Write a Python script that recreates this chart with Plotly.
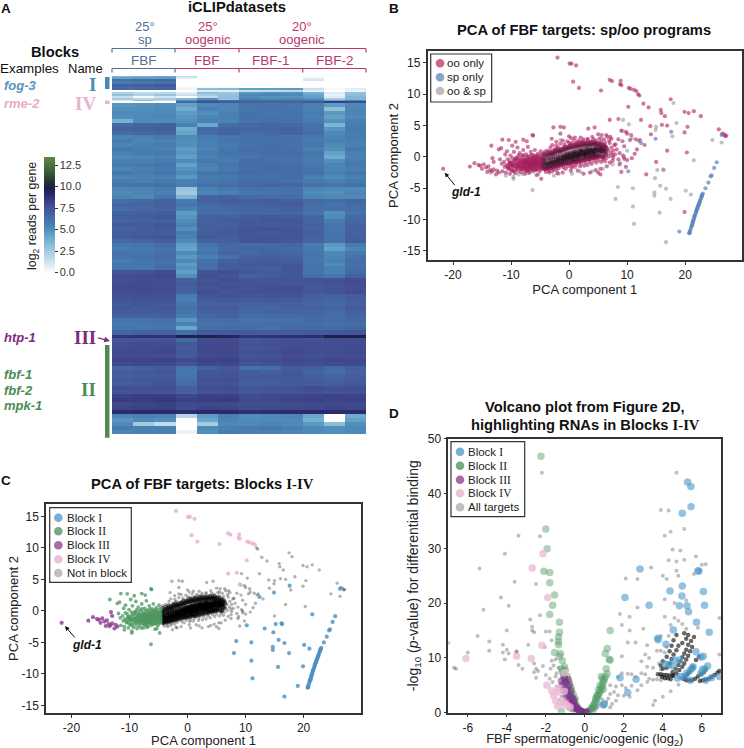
import numpy as np
import plotly.graph_objects as go

W, H = 744, 748
FONT = "Liberation Sans"
SERIF = "Liberation Serif"

# ---------- Panel A data ----------
col_labels = ["sp1", "sp2", "sp3", "oo1", "oo2", "oo3", "F1a", "F1b", "F1c", "F2a", "F2b", "F2c"]
colorbar_ticks = [0, 2.5, 5, 7.5, 10, 12.5]
colorbar_labels = ["0.0", "2.5", "5.0", "7.5", "10.0", "12.5"]
top_row_genes = [1, 2, 2, 3, 3, 1, 2, 2, 2, 2, 2, 2, 1, 2]
heat_top = [
    [3.5,3.8,4.2,1.8,0,0,0,0,0,0,0,0],
    [4.3,4.5,4.6,1.0,0,0,0,0,0,0.5,0,0],
    [6.3,6.4,6.6,0,0,0,0,0,0,1.2,0,0],
    [5.8,6.0,6.2,0,0,0,0,0,0,0,0,0],
    [7.0,7.0,7.3,0,0,0,0,0,0,0,0,0],
    [6.3,6.4,6.7,0.2,0.3,0.3,0,0,0,0.2,0,0],
    [6.6,6.7,6.9,0.5,3.2,3.4,4.4,4.5,4.6,1.5,0.3,0.8],
    [0,0,0,0,1.0,0.8,1.4,1.6,1.8,0.8,0,0.5],
    [2.2,1.8,2.0,0.8,3.2,2.8,4.8,5.0,5.0,3.8,1.0,3.0],
    [3.0,2.2,2.8,1.5,2.5,3.0,5.3,5.5,5.2,4.3,0.6,3.2],
    [1.5,0.2,1.2,0,1.8,3.2,5.0,4.9,4.8,4.5,0.8,3.5],
    [2.5,2.0,2.6,3.6,5.0,3.0,5.6,5.3,5.4,5.0,2.5,3.5],
    [0.8,3.0,1.5,5.0,6.8,6.2,6.6,6.5,6.4,6.3,4.5,5.6],
    [0,0,0,6.6,7.6,7.3,6.8,6.8,6.8,7.3,8.4,8.0],
]
heat_body = [
    [4.8,4.9,5.0,4.4,5.3,5.5,6.1,6.1,6.0,5.7,4.6,5.3],
    [5.0,5.1,5.2,4.0,5.6,5.4,6.0,6.2,6.1,5.6,3.2,5.4],
    [5.3,5.2,5.3,4.6,5.0,5.6,6.2,6.1,6.2,5.8,4.7,5.5],
    [5.0,5.3,5.4,4.8,5.4,5.7,6.3,6.2,6.1,5.7,4.4,5.3],
    [3.8,5.2,5.2,5.0,5.6,5.5,6.1,6.3,6.2,5.8,4.9,5.6],
    [6.6,6.7,6.9,5.6,4.2,6.4,6.6,6.7,6.6,6.2,3.6,5.8],
    [6.9,6.9,7.1,4.0,6.6,6.8,6.7,6.8,6.9,6.3,4.8,5.9],
    [6.5,6.7,6.8,4.3,6.4,6.9,6.5,6.6,6.8,6.4,5.3,5.8],
    [5.5,5.6,5.9,5.2,5.8,6.0,6.2,6.3,6.2,5.9,5.4,5.8],
    [5.8,5.5,5.6,5.1,5.6,6.1,6.3,6.2,6.3,5.8,5.6,5.7],
    [5.4,5.6,5.8,5.0,5.7,5.8,6.2,6.4,6.2,6.0,5.2,5.6],
    [5.9,5.7,5.7,4.6,5.5,6.0,6.4,6.3,6.3,5.7,5.1,5.9],
    [5.6,5.8,5.9,4.8,5.8,6.2,6.3,6.4,6.4,6.1,4.4,5.7],
    [5.3,5.4,5.6,4.5,5.6,5.9,6.1,6.2,6.3,5.9,4.1,5.6],
    [5.7,5.6,5.8,5.2,5.9,5.8,6.4,6.3,6.2,5.8,5.0,5.8],
    [5.8,5.9,6.0,4.4,5.7,6.1,6.5,6.4,6.3,6.0,5.4,5.9],
    [5.4,5.7,5.8,4.9,5.5,5.9,6.3,6.5,6.4,6.1,5.5,5.7],
    [5.9,5.8,6.1,5.3,6.0,6.2,6.5,6.4,6.5,6.2,5.6,6.0],
    [5.5,5.6,5.7,4.7,5.8,5.9,6.2,6.3,6.4,5.7,5.2,5.7],
    [5.8,5.7,5.9,5.6,5.9,6.1,6.4,6.5,6.3,5.9,5.7,5.9],
    [6.1,6.2,6.3,5.7,6.3,6.4,6.6,6.8,6.7,6.2,6.0,6.2],
    [5.4,5.5,5.8,2.9,5.6,5.9,6.2,6.2,6.3,5.4,5.2,5.2],
    [5.3,5.4,5.7,2.6,5.5,5.7,6.0,6.1,6.2,5.2,5.0,5.4],
    [5.5,5.3,6.0,3.6,6.8,6.9,6.5,6.4,6.5,5.5,5.3,5.3],
    [6.5,6.6,6.9,5.8,6.9,7.1,7.0,7.1,7.0,6.6,6.4,6.8],
    [6.7,6.8,7.0,6.0,6.6,6.7,6.9,7.0,7.2,6.4,6.1,6.5],
    [6.4,6.6,6.7,5.6,6.4,6.6,6.8,6.7,6.9,6.3,6.3,6.4],
    [6.9,7.0,7.2,4.6,6.5,6.5,6.7,6.8,6.8,6.1,5.0,6.2],
    [7.1,7.1,7.3,4.8,6.9,7.0,7.2,7.3,7.2,6.8,5.2,6.6],
    [6.8,6.9,7.0,5.2,6.9,7.2,7.3,7.4,7.4,6.7,5.8,6.6],
    [7.3,7.2,7.4,5.5,7.1,7.0,7.3,7.2,7.3,7.0,6.1,6.9],
    [6.9,7.1,7.3,5.0,7.0,7.2,7.5,7.6,7.4,6.8,6.0,6.8],
    [7.1,7.2,7.2,5.8,7.1,7.3,7.4,7.3,7.5,7.0,6.2,6.9],
    [7.2,7.3,7.4,5.6,7.3,7.1,7.5,7.6,7.5,6.9,6.1,7.0],
    [6.6,6.8,7.1,5.2,6.9,7.0,7.4,7.5,7.3,6.8,6.3,7.1],
    [6.0,6.1,6.4,4.5,6.1,6.6,6.5,6.6,6.7,5.8,4.7,5.8],
    [5.8,5.9,6.2,4.3,5.8,6.5,6.7,6.7,6.5,5.9,4.4,5.5],
    [6.2,6.0,6.3,5.2,6.1,6.8,6.6,6.8,6.7,6.1,5.3,5.9],
    [6.1,6.2,6.5,4.7,5.7,6.2,6.9,7.0,6.9,6.0,5.4,6.2],
    [5.8,6.0,6.2,5.3,6.2,7.0,7.2,7.2,7.1,6.0,5.6,6.4],
    [6.0,6.1,6.3,4.6,6.5,7.2,7.3,7.4,7.3,6.2,5.2,6.3],
    [6.0,5.9,6.5,4.9,6.4,7.1,7.2,7.0,7.4,6.1,5.7,6.4],
    [7.4,7.5,7.9,4.5,7.6,7.7,7.3,7.2,7.4,6.1,5.6,6.6],
    [7.8,7.9,8.0,5.0,7.7,7.5,7.0,7.2,7.4,6.4,6.0,6.9],
    [7.8,7.9,7.8,7.0,7.6,7.8,7.4,7.5,7.6,7.6,7.7,7.9],
    [7.8,7.9,7.9,7.1,7.7,7.6,7.5,7.6,7.5,7.5,7.6,7.8],
    [8.0,8.0,7.9,7.0,7.5,7.7,7.6,7.7,7.8,7.3,7.5,7.7],
    [7.9,7.9,7.8,6.9,7.8,7.5,7.7,7.7,7.7,7.4,7.6,7.8],
    [7.7,7.8,7.7,5.8,7.4,7.6,7.4,7.5,7.6,7.0,6.9,7.2],
    [7.5,7.6,7.5,5.7,7.2,7.3,7.2,7.3,7.2,7.0,6.7,7.1],
    [7.3,7.5,7.3,6.0,7.0,7.0,6.9,6.9,7.0,6.8,6.6,7.0],
    [7.4,7.3,7.4,6.2,7.1,7.2,6.8,6.7,6.9,6.9,6.7,7.2],
    [7.2,7.3,7.2,6.0,6.9,7.0,6.7,6.8,6.8,6.7,6.5,6.9],
    [6.9,6.9,7.0,5.8,6.7,6.9,6.4,6.5,6.6,6.6,6.5,6.8],
    [6.1,6.2,6.3,4.8,6.4,6.5,6.1,6.2,6.3,6.5,6.4,6.6],
    [5.9,6.0,6.2,5.6,6.2,6.3,6.3,6.4,6.4,6.4,6.3,6.5],
    [6.0,6.0,6.1,4.2,6.3,6.4,6.4,6.3,6.6,6.6,6.5,6.7],
    [6.8,6.9,7.0,6.4,7.2,7.3,7.2,7.2,7.2,7.3,7.3,7.4],
    [8.7,8.8,8.8,9.6,10.0,9.4,8.7,8.8,8.9,8.9,9.9,9.9],
    [7.4,7.5,7.6,6.6,7.9,8.0,7.5,7.6,7.7,7.6,7.8,7.9],
    [7.8,7.9,7.9,7.3,8.0,8.0,7.6,7.7,7.8,7.8,7.8,7.9],
    [7.8,7.9,8.0,7.2,8.0,8.0,7.5,7.6,7.9,7.8,7.8,7.9],
    [8.0,8.0,8.1,7.3,8.0,8.1,7.7,7.8,8.0,7.9,7.9,8.0],
    [7.9,8.0,7.9,7.2,8.0,8.0,7.4,7.5,7.8,7.7,7.8,7.8],
    [8.2,8.2,8.3,7.9,8.2,8.3,7.8,7.9,8.1,8.0,8.1,8.1],
    [8.0,8.1,8.0,7.6,8.1,8.1,7.6,7.7,7.9,7.8,7.9,8.0],
    [6.7,7.0,7.2,6.1,6.9,7.3,6.3,6.4,7.2,7.1,6.6,7.0],
    [7.2,7.3,7.4,6.0,7.4,7.5,7.1,7.0,7.3,6.8,6.4,6.9],
    [7.0,7.2,7.3,6.1,7.5,7.6,7.2,7.3,7.4,7.0,6.8,7.1],
    [7.3,7.4,7.4,6.3,7.7,7.7,7.2,7.2,7.3,7.2,7.0,7.2],
    [7.1,7.3,7.5,6.5,7.4,7.6,7.0,7.1,7.3,7.2,7.1,7.3],
    [7.7,7.7,7.8,7.0,7.8,7.9,7.4,7.5,7.6,7.8,7.7,7.8],
    [7.5,7.6,7.6,7.0,7.6,7.7,7.3,7.4,7.5,7.7,7.6,7.7],
    [8.3,8.4,8.4,8.1,8.3,8.3,7.9,8.0,8.1,8.2,8.3,8.2],
    [8.5,8.5,8.6,8.3,8.4,8.5,8.0,8.1,8.2,8.3,8.2,8.3],
    [8.1,8.2,8.3,8.0,8.1,8.0,7.8,7.9,8.0,8.0,8.1,8.0],
    [8.2,8.3,8.3,8.0,8.2,8.2,7.9,8.0,8.1,8.1,8.2,8.1],
    [9.0,9.1,9.1,9.0,9.1,9.1,8.8,8.9,9.0,9.1,9.1,9.0],
    [5.4,5.6,5.5,2.0,4.6,5.7,5.1,5.3,5.4,4.2,0,4.1],
    [4.8,5.2,5.0,0,4.2,5.5,5.2,5.2,5.2,3.8,0,4.4],
    [5.2,2.6,1.6,0,2.5,5.3,5.3,5.4,5.3,4.7,3.2,5.0],
    [5.8,5.7,5.6,0,5.2,5.6,5.8,5.9,5.7,5.3,5.0,5.3],
    [5.4,5.6,5.7,0.6,5.0,5.8,5.7,5.6,5.4,5.2,5.1,5.2],
]
body_row_genes = [4] * 57 + [5, 3] + [4] * 27 + [5]

# ---------- Panels B and C data: shared PCA coordinates, by group ----------
block_iv_oo = [(-2,15.85),(0.1,14.9),(0.4,14.9),(1.2,14.6),(1.7,11),(0.7,12),(5.5,10.6),(7,12.3),(7.4,12.1),(8.9,12.15),
    (8.8,11.6),(9,11.45),(10.3,11),(10.6,10.85),(11.2,10.7),(11.6,10.5),(7,5.9),(8.5,6.05),(9,4.2),(10.2,8)]
block_i_sp = [(20.7,-12.2),(20.75,-12.05),(20.85,-11.8),(20.95,-11.5),(21.05,-11.2),(21.15,-11),(21.25,-10.7),(21.3,-10.45),
    (21.4,-10.2),(21.5,-9.95),(21.55,-9.7),(21.65,-9.4),(21.75,-9.2),(21.85,-8.9),(21.95,-8.6),(22.05,-8.35),(22.15,-8.1),
    (22.25,-7.85),(22.35,-7.6),(22.45,-7.35),(22.55,-7.05),(22.65,-6.8),(22.75,-6.55),(22.85,-6.3),(22.95,-6.05),(23.05,-5.85),
    (20.8,-12.1),(21.2,-10.9),(21.6,-9.5),(22.1,-8.2),(22.5,-7.2),(22.9,-6.2),(21.35,-10.3),(21.9,-8.75),(22.3,-7.7),
    (23.5,-5),(24,-4.1),(24.4,-3.1),(24.55,-2.95),(25,-1.75),(25.45,-0.85),(19,-11.9),(12.4,2.2),(10.2,-2.3),(26.3,3.5),(14.9,2.9),(17.6,4)]
block_i_both = [(21.5,-0.55),(15.2,-2.1),(14.8,-3.4),(15.7,-4.6),(16.7,-5.1),(11,-5),(14.7,-5.7),(14.7,-6.2),(17.5,-6.7),(20.1,-5.4),
    (21,-6),(15.6,-8.9),(11,-7.9),(11.2,-10.7),(16.7,-13.6),(8.4,-4.8),(8,-6.7),(16.3,-2.1),(16.2,-2)]
block_i_oo = [(19.9,-8.8),(13.3,-2.8)]
block_iii_oo = [(-21.7,-1.9),(-17.1,-1.55),(-16.3,-1),(-15.6,-1.3),(-15.3,-1.4),(-15,-1.9),(-14.7,-1.2),(-14.3,-1.7),(-13.9,-1.5),
    (-13.6,-2.1),(-13.2,-0.2),(-13,-2),(-13,-0.8),(-12.6,-2.8),(-12.4,-2.2),(-12.1,-2.5),(-13.3,-2.3),(-14.1,-2.4)]
block_ii_both = [(-13.5,-2.5),(-9.6,-3.2),(-9.6,-3.5),(-8,-2.7),(-6.3,-5.3),(-7,-2.6),(-5.3,-2.8),(-10.7,-0.3),(-10.9,-3),
    (-6.4,-1.7),(-7.4,-1.9),(-5.4,-2),(-8.7,-2.8)]
block_ii_oo = [(-13.4,1.8),(-11.5,2.75),(-10.4,2.7),(-7.9,2.75),(-7.3,2.5),(-6.3,3.5),(-6.2,3.4),(-9.8,1.8),(-9.2,2.4),(-11.7,1.4),(-12.1,1.2),
    (-11.9,-0.4),(-11.6,-1.1),(-11.5,-2.3),(-11.2,-0.8),(-11.1,-1.6),(-11,0.4),(-10.9,-2.5),(-10.8,-1.3),(-10.7,0.9),
    (-10.5,-1.9),(-10.4,-0.5),(-10.3,-1.1),(-10.2,-2.7),(-10.1,0.2),(-10,-1.6),(-9.9,-0.9),(-9.8,-2.2),(-9.7,-0.2),(-9.6,-1.3),
    (-9.5,0.8),(-9.4,-1.9),(-9.3,-0.6),(-9.3,-2.6),(-9.1,-1.1),(-9,-0.1),(-8.9,-1.6),(-8.9,1.5),(-8.8,-2.2),(-8.7,-0.7),
    (-8.6,-1.3),(-8.5,0.6),(-8.4,-1.8),(-8.4,-0.3),(-8.3,-2.4),(-8.2,-1),(-8.1,0.1),(-8,-1.5),(-8,-0.6),(-7.9,1.1),
    (-7.8,-2),(-7.8,-1.2),(-7.7,-0.2),(-7.6,-0.8),(-7.6,-2.7),(-7.5,-1.6),(-7.4,0.4),(-7.3,-1),(-7.3,-2.2),(-7.2,-0.4),
    (-7.1,-1.4),(-7.1,1.6),(-7,-0.8),(-7,-1.9),(-6.9,0.1),(-6.8,-1.1),(-6.8,-2.5),(-6.7,-0.5),(-6.6,-1.6),(-6.6,0.8),
    (-6.5,-0.9),(-6.5,-2),(-6.4,-0.2),(-6.3,-1.3),(-6.2,-0.7),(-6.2,-2.3),(-6.1,0.3),(-6.1,-1.7),(-6,-1),(-6,-0.3),
    (-5.9,-1.4),(-5.9,1.1),(-5.8,-0.6),(-5.8,-2.1),(-5.7,-1),(-5.7,0),(-5.6,-1.6),(-5.6,-2.9),(-5.5,-0.4),(-5.5,-1.2),
    (-5.4,0.5),(-5.3,-0.8),(-5.3,-1.7),(-5.2,-0.1),(-5.2,-1.2),(-5.1,-2.3),(-5,-0.6),(-5,-1.5),(-4.9,0.9),(-4.9,-1),
    (-4.8,-3.5),(-4.8,-0.3),(-4.8,-1.9),(-4.7,-1.3),(-4.7,-0.7),(-4.6,0.2),(-4.6,-1.6),(-8.9,-0.4),(-9.7,-1.5),(-10.1,-1.2),
    (-8.1,-1.2),(-7.4,-1.1),(-6.7,-1.4),(-6.1,-0.9),(-7.9,-0.9),(-8.6,-0.9),(-9.2,-1.5),(-7,-1.3),(-5.6,-0.9),(-6.4,-1.1)]
block_ii_fill = [(-10.6,-1.5),(-10.4,-1.8),(-10.2,-0.9),(-10,-2.1),(-9.8,-1.3),(-9.6,-0.7),(-9.5,-2.3),(-9.3,-1.2),(-9.2,-0.3),(-9,-1.9),(-8.8,-1.1),(-8.7,0.2),
    (-8.5,-1.6),(-8.3,-0.6),(-8.2,-2),(-8,-1),(-7.9,0.3),(-7.8,-1.7),(-7.7,-0.5),(-7.5,-2.2),(-7.5,-0.9),(-7.3,-1.5),(-7.2,0),(-7.1,-0.7),(-7,-2.2),(-6.9,-1.2),
    (-6.8,-0.3),(-6.7,-1.8),(-6.6,-0.8),(-6.5,0.3),(-6.5,-1.4),(-6.3,-0.9),(-6.3,-2),(-6.2,-0.1),(-6.1,-1.3),(-6,-0.6),(-5.9,-1.9),(-5.8,-1.2),(-5.8,0.1),(-5.7,-0.4),
    (-5.6,-2),(-5.5,-0.8),(-5.4,-1.4),(-5.3,0.2),(-5.2,-0.5),(-5.1,-1.7),(-5.1,-0.9),(-5,-0.2),(-4.9,-1.3),(-4.8,-0.8),(-4.7,-1.9),(-4.7,0.4),(-4.6,-1.1),(-4.6,-0.4),
    (-7.7,-1.4),(-7,-1),(-6.5,-0.5),(-6.9,-1.6),(-6.2,-1.5),(-7.4,-0.6),(-8.1,-1.7),(-8.8,-1.5),(-5.9,-0.7),(-5.4,-1),(-6.7,-1),(-7.2,-1.8)]
# densely packed, not in any block, oo-only
core_oo = [(-4.45,-1.6),(-4.4,-1.2),(-4.35,-0.85),(-4.3,-0.5),(-4.4,-0.15),(-4.05,-1.7),(-4,-1.3),(-3.95,-1),(-4.02,-0.65),(-3.98,-0.3),(-4.1,0.1),
    (-3.6,-1.5),(-3.55,-1.15),(-3.5,-0.85),(-3.45,-0.5),(-3.52,-0.2),(-3.6,0.2),(-3.2,-1.45),(-3.15,-1.05),(-3.1,-0.75),(-3.05,-0.4),(-3.12,-0.1),(-3.2,0.35),
    (-2.8,-1.3),(-2.75,-1),(-2.7,-0.7),(-2.65,-0.35),(-2.72,0),(-2.8,0.4),(-2.4,-1.25),(-2.35,-0.9),(-2.3,-0.6),(-2.25,-0.3),(-2.32,0.05),(-2.4,0.55),
    (-2,-1.1),(-1.95,-0.8),(-1.9,-0.5),(-1.85,-0.2),(-1.92,0.15),(-2,0.7),(-1.6,-1.05),(-1.55,-0.7),(-1.5,-0.4),(-1.45,-0.1),(-1.52,0.25),(-1.6,0.75),
    (-1.2,-0.9),(-1.15,-0.6),(-1.1,-0.3),(-1.05,0),(-1.12,0.3),(-1.2,0.85),(-0.8,-0.85),(-0.75,-0.5),(-0.7,-0.2),(-0.65,0.1),(-0.72,0.45),(-0.8,1),
    (-0.4,-0.7),(-0.35,-0.4),(-0.3,-0.1),(-0.25,0.2),(-0.32,0.55),(-0.4,1.15),(0,-0.65),(0.05,-0.3),(0.1,0),(0.15,0.3),(0.08,0.6),(0,1.3),
    (0.4,-0.55),(0.45,-0.2),(0.5,0.1),(0.55,0.4),(0.48,0.75),(0.4,1.35),(0.8,-0.5),(0.85,-0.1),(0.9,0.2),(0.95,0.5),(0.88,0.85),(0.8,1.45),
    (1.2,-0.4),(1.25,0),(1.3,0.3),(1.35,0.6),(1.28,0.95),(1.2,1.5),(1.6,-0.3),(1.65,0.1),(1.7,0.4),(1.75,0.7),(1.68,1.05),(1.6,1.6),
    (2,-0.2),(2.05,0.15),(2.1,0.45),(2.15,0.75),(2.08,1.1),(2,1.65),(2.4,-0.1),(2.45,0.25),(2.5,0.55),(2.55,0.85),(2.48,1.15),(2.4,1.7),
    (2.8,0),(2.85,0.3),(2.9,0.6),(2.95,0.9),(2.88,1.2),(2.8,1.75),(3.2,0.05),(3.25,0.4),(3.3,0.7),(3.35,1),(3.28,1.3),(3.2,1.8),
    (3.6,0.1),(3.65,0.45),(3.7,0.75),(3.75,1.05),(3.68,1.35),(3.6,1.85),(4,0.2),(4.05,0.5),(4.1,0.8),(4.15,1.1),(4.08,1.4),(4,1.9),
    (4.4,0.15),(4.45,0.55),(4.5,0.85),(4.55,1.15),(4.48,1.45),(4.4,1.95),(4.8,0.25),(4.85,0.6),(4.9,0.9),(4.95,1.2),(4.88,1.5),(4.8,1.8),
    (5.2,0.3),(5.25,0.7),(5.3,1),(5.35,1.3),(5.28,1.6),(5.6,0.4),(5.65,0.8),(5.7,1.15),(5.62,1.5),(6,0.5),(6.05,1),(6,1.35)]
core_wide = [(-4.3,0.5),(-3.7,0.6),(-3.3,0.9),(-2.9,0.8),(-2.5,1),(-2.1,1.2),(-1.8,1.05),(-1.4,1.3),(-1,1.4),(-0.7,1.6),(-0.3,1.6),(0.1,1.8),(0.5,1.9),(0.9,2),
    (1.3,2.1),(1.7,2),(2.1,2.2),(2.5,2.2),(3,2.3),(3.4,2.2),(3.9,2.4),(4.3,2.3),(4.7,2.3),(5.1,2.2),(5.5,2.1),(5.9,1.9),(6.3,1.7),
    (-4.2,-2),(-3.6,-1.9),(-3.2,-1.8),(-2.8,-1.7),(-2.4,-1.6),(-2,-1.5),(-1.6,-1.4),(-1.2,-1.3),(-0.8,-1.2),(-0.4,-1.1),(0,-1.1),(0.4,-1),(0.8,-0.9),(1.2,-0.8),(1.6,-0.8),
    (2,-0.7),(2.4,-0.6),(2.8,-0.5),(3.2,-0.4),(3.6,-0.4),(4,-0.2),(4.4,-0.2),(4.8,-0.1),(5.2,0),(5.6,0),(6,0.1),
    (-3.9,0.3),(-3.4,0.5),(-3,0.55),(-2.6,0.65),(-2.2,0.9),(-1.7,0.95),(-1.3,1.05),(-0.9,1.2),(-0.5,1.3),(-0.1,1.45),(0.3,1.6),(0.7,1.65),(1.1,1.75),(1.5,1.8),(1.9,1.9),
    (2.3,1.95),(2.7,2),(3.1,2),(3.5,2.05),(3.8,2.1),(4.2,2.1),(4.6,2.05),(5,2),(5.4,1.85),(5.8,1.7),(6.2,1.4),(6.5,1.2),(6.3,0.8),(6.4,0.4),(5.9,-0.1),
    (-4.1,-1.9),(-3.8,-1.75),(-3.4,-1.65),(-3,-1.55),(-2.6,-1.45),(-2.2,-1.4),(-1.8,-1.25),(-1.4,-1.15),(-1,-1.1),(-0.6,-1),(-0.2,-0.95),(0.2,-0.85),(0.6,-0.75),(1,-0.7),(1.4,-0.6),
    (1.8,-0.55),(2.2,-0.45),(2.6,-0.35),(3,-0.25),(3.4,-0.2),(3.8,-0.1),(4.2,-0.05),(4.6,0),(5,0.1)]
core_dense = [(-1.5,-0.6),(-1.1,-0.5),(-0.7,-0.4),(-0.6,0),(-0.3,-0.3),(-0.2,0.1),(0.1,-0.2),(0.2,0.2),(0.5,-0.1),(0.6,0.3),(0.9,0),(1,0.4),
    (1.3,0.1),(1.4,0.5),(1.7,0.2),(1.8,0.6),(2.1,0.3),(2.2,0.7),(2.5,0.4),(2.6,0.8),(2.9,0.5),(3,0.9),(3.3,0.6),(3.4,1),(3.7,0.7),(3.8,1.1),(4.1,1),(4.2,0.7),
    (4.5,1),(4.6,1.3),(5,1),(5.4,1.2),(-2,-0.7),(-2.4,-0.8),(-2.8,-0.9),(-3.2,-1),(-1.9,-0.3),(-3.6,-1.1),(-4,-1.2),(0.1,0.6),(1.1,0.8),(2.2,1.1),
    (-1.3,-0.2),(-0.9,0.1),(-0.4,0.4),(0.7,-0.4),(1.5,-0.1),(2.7,0.2),(3.5,0.3),(4.3,0.4),(3.1,1.3),(1.9,0.95),(0.7,0.7),(5.6,0.9),(6,1)]
halo_oo = [(-2.7,4.7),(-1.5,4.8),(-0.9,4.7),(-1.5,3.7),(0,3.3),(0.3,3),(3.3,4.5),(4.4,4.7),(-3,2.9),(1,3.1),(2,3.1),(2.5,2.8),(3.2,2.7),(4,3.2),(5,3.6),
    (5.6,3.5),(6.4,3.5),(6.6,3.2),(7.1,3.2),(7.3,2.9),(7,2.2),(-2.2,2.4),(-1.1,2.6),(-0.3,2.5),(0.4,2.2),(1.3,2.3),(1.9,2.4),(2.8,2.2),(3.6,2.4),(4.6,2.6),
    (5.5,2.4),(6.2,2.3),(6.1,1.9),(6.5,1.5),(6.8,1),(7.2,0.6),(6.9,0.1),(6.4,-0.2),(5.8,-0.4),(5,-0.5),(4.3,-0.6),(3.5,-0.8),(2.8,-0.9),(2,-1.1),(1.2,-1.2),
    (0.5,-1.4),(-0.2,-1.5),(-1,-1.7),(-1.8,-1.8),(-2.7,-2),(-3.5,-2.2),(-4,-2.4),(-2.2,-2.1),(-1.1,-2.5),(0.3,-2.2),(1.5,-2.2),(2.5,-2.7),(3.6,-2.5),(4.6,-2.1),
    (5,-2.5),(5.4,-2.8),(5.4,-1.9),(6.5,-1.5),(7.5,-0.6),(7.8,1.9),(8.2,1.2),(7.6,1),(8.7,0.6),(8,2),(8.5,2.8),(9.2,2.5),(9.5,1.7),(9.3,0.2),(8.5,-0.4),(8.7,-1.2),
    (9.5,-0.3),(10,-0.5),(10.8,-0.2),(11.3,0.5),(11.7,1.2),(9.8,-1.6),(9,-2.4),(10,3.7),(10.7,3.5),(11.5,2.8),(12.2,2.7),(13,1.9),(14.1,3.6),(12.4,5.9),(14,4.9),
    (9.8,4),(10.5,2.7),(16,5.1),(16.9,5),(16.9,1),(15,-0.8),(20.3,0.7),(20.4,4.8),(19.9,3.9),(12.8,8.5),(13.7,7.9),(15.8,7.5),(15.9,7),(16.5,6.5),(17.5,9.2),
    (19.9,7.2),(20.6,7),(21.5,7.3),(22.7,6.5),(25.8,4.4),(27.1,3.4),(26.7,3.6),(26.4,3.7),(26.9,3.3),(11.9,10),(12.1,9.8),(-2.5,1.2),(-3.2,1.5),(-1.9,1.5),(-3.8,1),(-4.2,0.8),
    (-2.9,1.9),(-2.2,1.8),(-1.5,2.1),(-0.8,2),(0,2.2),(0.8,2.7),(1.6,2.6),(2.4,2.5),(3.2,2.9),(4.2,2.8),(5.2,2.9),(6,2.8),(6.9,2.6),(-3.4,-2.5),(-2.9,-2.3),(-2,-2.6),(-0.6,-1.9),(0.4,-1.7),
    (1,-1.6),(1.9,-1.5),(2.6,-1.4),(3.2,-1.3),(3.9,-1.1),(4.7,-0.9),(5.5,-0.8),(6.2,-0.7),(7,-0.9),(7.6,-0.1),(7.5,0.3),(7.9,0.4),(7.3,1.5)]
halo_both = [(18,8.6),(9.3,5.9),(10.3,5.2),(15,4.8),(14.9,4.3),(18.5,5.4),(24.7,2.7),(26.3,2.3),(17.8,3.3),(9.2,4.1),(10.8,3),(12,2.5),(10,1),(9.5,0),
    (8.8,-0.9),(5.8,-1.9),(4,-2.3),(2,-2.4),(0.5,-2.7),(-1.8,-2.7),(-2.6,-3),(-3.4,-1.7),(1.3,-0.9),(3.8,-0.3),(6.5,0.5),(5.5,3),(-1.5,2.7),(7.5,-1.2)]

# ---------- Panel D data ----------
vol_block_i = [(5.27,42.1),(5.44,41.3),(5.45,37.6),(5,36.4),(2.83,26.2),(5.8,25.9),(5.85,25.8),(5,23.1),(4.37,22.2),(6.08,22.1),(4.98,21.3),(2.06,21),(3.3,19.6),
    (4.85,19.5),(5.24,19.5),(6.14,19.6),(5.32,18.4),(5.73,16.5),(4.54,15.1),(6.38,14.7),(3.74,13.6),(3.76,13.3),(4.16,12.5),(5.7,11.1),(6.07,10.3),(5.95,10.1),
    (4.85,9.6),(4.6,9.6),(4.3,8.8),(4.1,8.9),(5.5,8.1),(5.4,7.7),(5.22,7.2),(5.1,6.6),(4.93,6.6),(6.04,7.9),(6.3,8.5),(6.15,8),(5.95,7.2),(6.9,6.6),(1.81,6.4),
    (2.63,6.1),(2.2,3.7),(5.4,5.9),(6.2,5.9),(6.5,6.4),(0.95,1.4),(1.0,1.6),(4.5,8.5),(5.55,8.4),(4.75,6.3)]
vol_block_ii = [(-2.25,46.8),(-2,33.5),(-1.93,29.9),(-2.1,25.8),(-1.8,25.6),(-1.8,23.7),(-1.55,21.5),(-1.65,19.6),(-1.8,17.9),(-1.3,16.5),(-1.3,14.7),(-1.35,13.8),
    (-1.35,13),(-1.35,12.4),(1.3,15),(1.15,11.7),(1.05,10.8),(1.3,9.6),(1.25,9.7),(1.1,8),(-1.55,11),(-1.25,10.8),(-1.3,10.3),(-1.15,9.5),(-1.05,8.4),(-1,7.8),
    (-1.2,8),(-1.15,7.5),(-1.1,7),(-1.05,6.5),(-1,6),(-0.95,5.5),(-0.9,5),(-0.85,4.5),(-0.8,4),(-0.75,3.6),(-0.7,3.2),(-0.65,2.8),(-0.6,2.4),(-0.55,2),
    (-0.5,1.7),(-0.45,1.4),(-0.4,1.1),(-0.35,0.8),(-0.3,0.6),(-0.25,0.4),(-0.2,0.25),(-0.15,0.12),(-0.1,0.05),(-1.2,0.3),(1.15,7.1),(1.05,6.5),(1,6),(0.95,5.5),
    (0.9,5),(0.85,4.5),(0.85,6.6),(0.8,4),(0.75,3.6),(0.7,3.2),(0.65,2.8),(0.6,2.4),(0.55,2),(0.5,1.7),(0.45,1.4),(0.4,1.1),(0.35,0.8),(0.3,0.6),(0.25,0.4),
    (0.2,0.25),(0.15,0.1),(0.95,4.3),(0.78,5),(0.7,4.2),(0.62,3.2),(0.55,2.6),(0.48,1),(0.9,6.2),(-0.9,6.6),(-0.8,5.5),(-0.7,4.6),(-0.6,3.4),(-0.5,2.6)]
vol_block_iii = [(-1.2,5.8),(-1.15,5),(-1,5.5),(-0.85,6),(-0.8,5),(-1.1,4.1),(-0.95,4.2),(-0.7,4),(-0.75,3),(-0.85,2.2),(-0.6,1.8),(-0.55,2.3),(-0.5,1.2),
    (-0.45,0.9),(-0.7,1.6),(-0.35,0.6),(-0.3,0.4),(-0.25,0.3),(-0.2,0.2),(-0.15,0.1),(-0.1,0.1),(0,0.1),(0.1,0.1),(0.05,0.05),(-0.65,2.6),(-0.95,2.8),(-0.4,0.7),
    (-0.6,1.1),(-1.05,6.2),(-0.9,3.4)]
vol_block_iv = [(-6.1,9.9),(-3.5,10.3),(-2.75,9.9),(-2.2,12.3),(-2.7,26.4),(-2.15,29),(-1.9,21),(-1.95,5),(-1.7,4),(-1.6,3.1),(-1.4,3.8),(-1.5,2.2),(-1.1,2),(-1,1.6),
    (-1.25,1.8),(-1.35,4.4),(-1.05,7.3),(-0.85,1.2),(-1.4,1.2),(-1.05,3.9),(-0.75,1)]
vol_targets = [(4.7,43.8),(-2.2,43.8),(-3.4,32.3),(-2.3,32.2),(-4.1,29),(-5.4,26.3),(-3.6,23.9),(-2.5,23.5),(-4.3,21),(-3.9,19.5),(-5.2,18.8),(-2.8,17),(-2.7,15.7),(-2.7,15),
    (-4,15),(-5.5,14),(-2.6,14.7),(-4.9,13),(-7,12.7),(-6,11),(-4.9,11.3),(-4.2,12.4),(-4.2,11),(-4,11.5),(-3.9,10.8),(-3.5,11.2),(-3.5,11),(-2.9,12.4),(-6.7,8.2),(-6.6,8),
    (-4.1,9.7),(-3.4,8.7),(-3.2,8),(-2.6,9),(-2.5,8),(-2.6,7.4),(-2.5,6.4),(-2.4,7.6),(-2.15,8.5),(-2.3,17.8),(-2,14.8),(-1.8,14.8),(-1.7,13.2),(-2.05,12),(-1.7,9.5),(-1.6,8.6),
    (-1.75,8),(-2,6.9),(-1.8,6.2),(-1.65,5.6),(-1.5,6.6),(-1.45,7.2),(-1.35,8.2),(-1.5,9.7),(-1.45,4.8),(-1.2,3),(-1.3,2.3),(-0.7,0.5),(-0.6,0.3),(-0.75,0.6),(-0.5,0.4),(-0.85,0.7),
    (3.9,37),(4.3,36.9),(5.1,33.5),(4.4,33),(4.1,32.3),(3.4,26.5),(4.5,29.8),(4.9,29.6),(4.3,27.8),(4.7,27.6),(5.1,27.9),(5.7,28.5),(6,27),(6.2,27.1),(5.9,26),(5.6,25.3),(4,25),(4.2,24.4),
    (4.7,25.9),(4.8,25),(2.1,24.5),(2.7,24.4),(5.2,20.5),(4.1,20.7),(2.7,19.2),(4.6,20),(1.8,18),(1.9,16),(2.3,17.5),(2.3,15),(3,15.3),(4.1,17.5),(4.6,17.3),(4.8,16.8),(4.4,16),(5,16.2),
    (5.2,15.3),(5.8,15.5),(6.9,17.3),(3.9,14),(4.3,14),(2.2,12.8),(2.6,12.8),(3.2,12.3),(1.9,10.3),(3.1,10.6),(3.3,10),(3.7,11.3),(3.9,11.3),(4.1,11),(4.2,12),(6.9,10.6),
    (2.2,7.1),(2.4,7.0),(2.6,6.5),(2.9,7.2),(3.1,7),(3.3,6.2),(3.5,6),(3.7,6.1),(1.9,7.2),(1.7,6.5),(1.3,5),(1.6,4.8),(1.9,5),(2.1,4.5),(2.4,4.9),(2.7,4.1),(2.9,5),(3.2,5.6),
    (1.3,3.4),(1.5,3.8),(1.7,3.2),(2,3.1),(2.3,2.9),(1.1,2),(1.2,2.6),(1,1.2),(0.9,2.4),(0.8,1.7),(0.7,1.2),(0.6,0.8),(0.5,0.3),(1.4,1.6),(1.6,2.2),(1.3,1),(3.5,1.4),(3.6,2.2),(4,2.9),(4.4,3.9),
    (4.8,5.1),(3.9,5.9),(3.2,8.4),(2.9,9.4),(3.5,8.2),(3.8,9),(3.9,7.9)]
vol_streaks = [(3.75,7),(3.9,7),(4.05,6.9),(4.2,6.9),(4.35,6.8),(4.5,6.8),(3.95,6.5),(4.1,6.3),(4.25,6.3),(4.4,6.1),(4.5,7.4),(4.65,8),(4.8,8.7),(4.9,9.4),(5,10.1),(5.1,10.8),(5.2,11.5),
    (4.55,6.7),(4.7,7.2),(4.85,7.8),(5,8.4),(5.1,9),(5.2,9.7),(5.3,10.4),(5.4,11.2),(5.5,12),(5.05,6.2),(5.15,6.6),(5.25,7),(5.35,7.4),(5.45,7.9),(5.55,8.4),
    (5.2,5.9),(5.35,5.9),(5.5,5.9),(5.65,6.2),(5.8,6.6),(5.95,7),(6.1,7.4),(6.2,7.9),(5.9,5.8),(6.05,5.9),(6.2,6),(6.35,6.2),(6.5,6.5),(6.65,6.9),(6.8,7.3),(6.9,7.6),
    (4.2,8.2),(4.35,9),(4.45,9.8),(4.55,10.6),(4.7,11.4),(4.8,12.2),(4.2,10.2),(4.35,11.2),(4.45,12.2),(4.55,13.2),(4.7,14.2),(5.3,12.4),(5.45,13.1),(5.6,13.8),(5.7,9.6),(5.85,10.2),
    (4,8),(3.9,8.6),(4,9.4),(5.2,13.5),(5.1,14.5),(5.3,14.2),(5,12.7)]

# ---------- Axis labels ----------
pca_x_ticks = [-20, -10, 0, 10, 20]
pca_x_labels = ["-20", "-10", "0", "10", "20"]
pca_y_ticks = [-15, -10, -5, 0, 5, 10, 15]
pca_y_labels = ["-15", "-10", "-5", "0", "5", "10", "15"]
vol_x_ticks = [-6, -4, -2, 0, 2, 4, 6]
vol_x_labels = ["-6", "-4", "-2", "0", "2", "4", "6"]
vol_y_ticks = [0, 10, 20, 30, 40, 50]
vol_y_labels = ["0", "10", "20", "30", "40", "50"]


def xs(p): return [a for a, _ in p]
def ys(p): return [b for _, b in p]
def px(x): return x / W
def py(y): return 1 - y / H


fig = go.Figure()
colorscale_stops = [(0, "#ffffff"), (1.2, "#d2e4ef"), (2.5, "#a5cbe0"), (4, "#6fadd0"), (5, "#5290bb"), (6, "#4577ad"), (7, "#44609e"),
                    (8, "#424a8e"), (9, "#2c2c70"), (9.8, "#1e1c50"), (10.5, "#1f2f35"), (11.5, "#365530"), (13.5, "#5f8a48")]
heat = heat_top + heat_body
edges = np.concatenate([[0], np.cumsum(top_row_genes + body_row_genes)])
fig.add_trace(go.Heatmap(
    z=heat, x=list(range(13)), y=edges, xaxis="x4", yaxis="y4", zmin=0, zmax=13.5,
    colorscale=[[v / 13.5, c] for v, c in colorscale_stops], hoverinfo="skip",
    colorbar=dict(x=px(44), xanchor="left", y=py(214.5), yanchor="middle", lenmode="pixels", len=116, thicknessmode="pixels", thickness=11,
                  outlinewidth=0, tickmode="array", tickvals=colorbar_ticks, ticktext=colorbar_labels, ticks="outside", ticklen=3,
                  tickwidth=1, tickcolor="#333", tickfont=dict(size=11, family=FONT, color="#333"), xpad=0, ypad=0),
))


def scatter(points, xa, ya, color, size, opacity, name):
    fig.add_trace(go.Scatter(x=xs(points), y=ys(points), xaxis=xa, yaxis=ya, mode="markers", name=name, showlegend=False,
                             hoverinfo="skip", marker=dict(color=color, size=size, opacity=opacity, line=dict(width=0))))


# Panel B
GB, OO, SP = "#6e6e6e", "#ab2263", "#5b84b8"
scatter(halo_both + block_i_both + block_ii_both, "x", "y", GB, 4.2, 0.42, "oo & sp")
scatter(halo_oo + block_iv_oo + block_iii_oo + block_ii_oo + block_i_oo, "x", "y", OO, 4.2, 0.6, "oo only")
scatter(block_ii_fill, "x", "y", "#a31f5e", 4.2, 0.65, "oo only (fill)")
scatter(core_wide, "x", "y", "#8a1a52", 4.2, 0.7, "oo only (wide)")
scatter(core_oo, "x", "y", "#4f1233", 4.2, 0.5, "oo only (dense)")
scatter(core_dense, "x", "y", "#12060d", 4.2, 0.35, "oo only (densest)")
scatter(block_i_sp, "x", "y", SP, 4.2, 0.7, "sp only")
# Panel C
scatter(halo_oo + halo_both, "x2", "y2", "#000000", 3.4, 0.3, "Not in block")
scatter(core_wide, "x2", "y2", "#000000", 4, 0.55, "Not in block (wide)")
scatter(core_oo + core_dense, "x2", "y2", "#000000", 4.2, 0.7, "Not in block (dense)")
scatter(block_ii_oo + block_ii_both + block_ii_fill, "x2", "y2", "#4d9560", 3.8, 0.75, "Block II")
scatter(block_iii_oo, "x2", "y2", "#8b3a92", 4.2, 0.8, "Block III")
scatter(block_iv_oo, "x2", "y2", "#e8b4d2", 4.2, 0.85, "Block IV")
scatter(block_i_sp + block_i_both + block_i_oo, "x2", "y2", "#4a90c0", 4.2, 0.8, "Block I")
# Panel D
scatter(vol_targets, "x3", "y3", "#000000", 4, 0.25, "All targets")
scatter(vol_streaks, "x3", "y3", "#000000", 4.5, 0.6, "All targets (dense)")
scatter(vol_block_ii, "x3", "y3", "#4f9a62", 7.5, 0.45, "Block II")
scatter(vol_block_iii, "x3", "y3", "#7f2f8c", 7.5, 0.55, "Block III")
scatter(vol_block_iv, "x3", "y3", "#ecb7d3", 7.5, 0.75, "Block IV")
scatter(vol_block_i, "x3", "y3", "#4a9ac9", 7.5, 0.6, "Block I")


def axis(x0, x1, rng, ticks, labels, title, standoff, anchor, tsize=13):
    return dict(domain=[x0, x1], range=rng, tickmode="array", tickvals=ticks, ticktext=labels, ticks="outside", ticklen=3, tickwidth=1,
                tickcolor="#333", tickfont=dict(size=12, family=FONT, color="#222"), showline=True, mirror=True, linecolor="#333",
                linewidth=1.5, showgrid=False, zeroline=False, anchor=anchor, automargin=False,
                title=dict(text=title, standoff=standoff, font=dict(size=tsize, family=FONT, color="#222")))


layout = dict(
    width=W, height=H, autosize=False, margin=dict(l=0, r=0, t=0, b=0, pad=0), paper_bgcolor="white", plot_bgcolor="white",
    showlegend=False, font=dict(family=FONT, color="#222"),
    xaxis=axis(px(427.5), px(742), [-24.4, 29.8], pca_x_ticks, pca_x_labels, "PCA component 1", 1, "y"),
    yaxis=axis(py(260), py(51), [-16.45, 16.9], pca_y_ticks, pca_y_labels, "PCA component 2", 1, "x"),
    xaxis2=axis(px(46), px(361), [-24.4, 29.9], pca_x_ticks, pca_x_labels, "PCA component 1", 6, "y2"),
    yaxis2=axis(py(713.3), py(503.7), [-16.25, 17], pca_y_ticks, pca_y_labels, "PCA component 2", 0, "x2"),
    xaxis3=axis(px(448.3), px(721.3), [-7, 7], vol_x_ticks, vol_x_labels, "FBF spermatogenic/oogenic (log<sub>2</sub>)", 10, "y3"),
    yaxis3=axis(py(712.7), py(438.7), [0, 50], vol_y_ticks, vol_y_labels, "-log<sub>10</sub> (<i>p</i>-value) for differential binding", 6, "x3", 14),
    xaxis4=dict(domain=[px(112), px(366)], range=[0, 12], visible=False, anchor="y4"),
    yaxis4=dict(domain=[py(451), py(76)], range=[float(edges[-1]), 0], visible=False, anchor="x4"),
)
fig.update_layout(**layout)

annotations, shapes = [], []


def text(x, y, s, size=12, color="#222", bold=False, italic=False, family=FONT, anchor="center", angle=0):
    if bold: s = f"<b>{s}</b>"
    if italic: s = f"<i>{s}</i>"
    annotations.append(dict(x=px(x), y=py(y), xref="paper", yref="paper", text=s, showarrow=False, xanchor=anchor, yanchor="middle",
                            textangle=angle, font=dict(size=size, color=color, family=family), borderpad=0, borderwidth=0))


def arrow(x0, y0, x1, y1, color, width=1, head=0.9):
    annotations.append(dict(x=px(x1), y=py(y1), xref="paper", yref="paper", ax=x0 - x1, ay=y0 - y1, text="", showarrow=True, arrowhead=2,
                            arrowsize=head, arrowwidth=width, arrowcolor=color))


def line(x0, y0, x1, y1, color, width=1.2):
    shapes.append(dict(type="line", xref="paper", yref="paper", x0=px(x0), y0=py(y0), x1=px(x1), y1=py(y1), line=dict(color=color, width=width)))


def rect(x0, y0, x1, y1, fill, border=None, width=0):
    shapes.append(dict(type="rect", xref="paper", yref="paper", x0=px(x0), y0=py(y0), x1=px(x1), y1=py(y1), fillcolor=fill,
                       line=dict(color=border or fill, width=width)))


def legend(box, cx, tx, rows):
    rect(*box, "white", "#333", 1.2)
    for y, color, label in rows:
        shapes.append(dict(type="circle", xref="paper", yref="paper", x0=px(cx - 4.3), x1=px(cx + 4.3), y0=py(y - 4.3), y1=py(y + 4.3),
                           fillcolor=color, line=dict(width=0)))
        text(tx, y, label, size=11.5, color="#222", anchor="left")


def roman(s):
    return f'<span style="font-family:{SERIF}">{s}</span>'


BLUE, MAG = "#4f7196", "#b8386e"
for s, x, y, c, sz in [("25°", 145, 26, BLUE, 13), ("sp", 145, 40, BLUE, 13), ("25°", 208, 26, MAG, 13), ("oogenic", 208, 40, MAG, 13), ("20°", 301.5, 26, MAG, 13),
                       ("oogenic", 301.5, 40, MAG, 13), ("FBF", 143.7, 61, BLUE, 13.5), ("FBF", 207, 61, MAG, 13.5), ("FBF-1", 270.7, 61, MAG, 13.5), ("FBF-2", 334.7, 61, MAG, 13.5)]:
    text(x, y, s, size=sz, color=c)
for y in (48.5, 68.5):
    line(112, y, 175, y, BLUE); line(175, y, 366, y, MAG)
    line(112, y, 112, y + 4, BLUE); line(175, y, 175, y + 4, BLUE)
    line(366, y, 366, y + 4, MAG)
line(239, 48.5, 239, 52.5, MAG)
line(239, 68.5, 239, 72.5, MAG); line(302.7, 68.5, 302.7, 72.5, MAG)

text(237, 7.5, "iCLIPdatasets", 14.8, "#111", bold=True)
text(54.7, 52, "Blocks", 14.7, "#111", bold=True)
text(29, 68, "Examples", 13.4, "#111"); text(85, 68, "Name", 13, "#111")
for s, x, y, c in [("fog-3", 3.5, 85, "#5a94bf"), ("rme-2", 3.5, 103, "#e8abc8"), ("htp-1", 3.5, 337, "#7f2a80"), ("fbf-1", 3.5, 374, "#4a8a55"),
                   ("fbf-2", 3.5, 390, "#4a8a55"), ("mpk-1", 3.5, 405, "#4a8a55")]:
    text(x, y, s, 13, c, bold=True, italic=True, anchor="left")
for s, x, y, c in [("I", 92, 84, "#4a8cba"), ("IV", 85, 103, "#e9b3cc"), ("III", 84.7, 337, "#7f2a80"), ("II", 88.5, 389, "#4e8a58")]:
    text(x, y, s, 19, c, bold=True, family=SERIF)
rect(105, 77, 109.5, 89, "#4a86b8"); rect(105, 100.5, 109.5, 104, "#e9b3cc"); rect(105, 345, 109.5, 437.7, "#4e8a58")
arrow(96.5, 337.5, 110, 341, "#7f2a80", width=1.3)
text(33, 216, "log<sub>2</sub> reads per gene", 12.4, "#222", angle=-90)
for s, x, y in [("A", 1, 8), ("B", 389, 8), ("C", 1, 480), ("D", 389, 413)]:
    text(x, y, s, 13.5, "#111", bold=True, anchor="left")

text(584, 30.5, "PCA of FBF targets: sp/oo programs", 14.7, "#111", bold=True)
text(203, 484, f"PCA of FBF targets: Blocks {roman('I-IV')}", 14.7, "#111", bold=True)
text(585, 407, "Volcano plot from Figure 2D,", 14.7, "#111", bold=True)
text(585, 425, f"highlighting RNAs in Blocks {roman('I-IV')}", 14.7, "#111", bold=True)

text(466, 191.7, "gld-1", 12, "#111", bold=True, italic=True)
arrow(456, 186.7, 444.7, 172.7, "#111")
text(86.7, 645, "gld-1", 12, "#111", bold=True, italic=True)
arrow(76, 639, 65, 626, "#111")

legend((430.7, 54, 491.7, 102), 440, 447.3,
       [(63.3, "#cc6590", "oo only"), (77.3, "#84a3cd", "sp only"), (91, "#bdbdbd", "oo &amp; sp")])
legend((49.7, 507.7, 131.3, 582.3), 58.3, 66.7,
       [(517.7, "#76b0d6", f"Block {roman('I')}"), (531.3, "#74ab82", f"Block {roman('II')}"), (545.3, "#a968a8", f"Block {roman('III')}"),
        (559.3, "#ecc1da", f"Block {roman('IV')}"), (573, "#bfbfbf", "Not in block")])
legend((451, 441.7, 524.7, 516.7), 460, 468,
       [(451.7, "#76b0d6", f"Block {roman('I')}"), (465.7, "#74ab82", f"Block {roman('II')}"), (479.7, "#a968a8", f"Block {roman('III')}"),
        (493.3, "#ecc1da", f"Block {roman('IV')}"), (507.3, "#bfbfbf", "All targets")])

fig.update_layout(annotations=annotations, shapes=shapes)
fig.write_html("out.html", config={"displayModeBar": False},
               post_script="document.body.style.margin='0';document.body.style.overflow='hidden';")
